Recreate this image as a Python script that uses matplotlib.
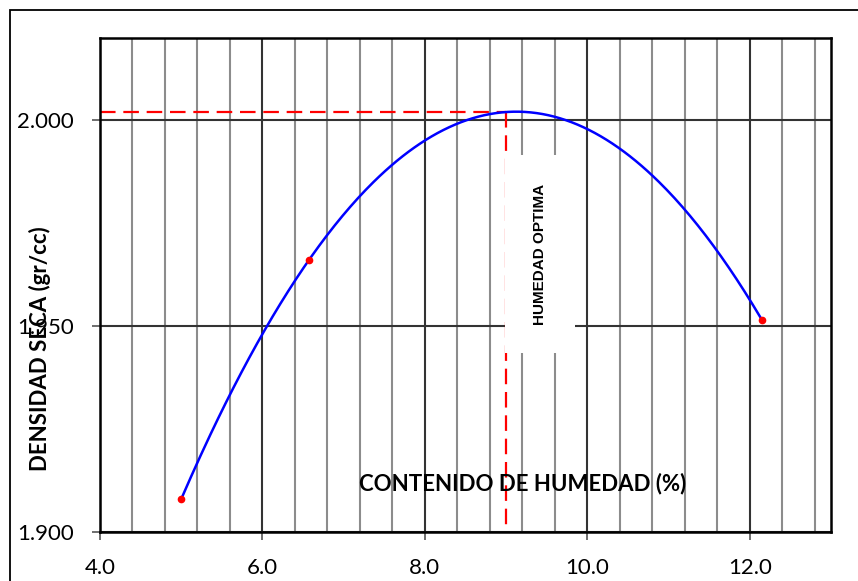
import numpy as np
import matplotlib
matplotlib.use("Agg")
import matplotlib.pyplot as plt
from matplotlib.patches import Rectangle
from matplotlib.ticker import FixedLocator, FuncFormatter

# ---- data ----
humedad = [5.0, 6.57, 12.15]          # contenido de humedad (%)
densidad = [1.908, 1.966, 1.9515]     # densidad seca (gr/cc)
hum_optima = 9.0
dens_maxima = 2.002
x_ticks = [4.0, 6.0, 8.0, 10.0, 12.0]
y_ticks = [1.900, 1.950, 2.000]

plt.rcParams['font.family'] = ['Lato', 'DejaVu Sans']

fig = plt.figure(figsize=(8.58, 5.81), dpi=100)
ax = fig.add_axes([100/858, 1-532/581, 731/858, 494/581])

ax.set_xlim(4.0, 13.0)
ax.set_ylim(1.900, 2.020)

# grid
ax.xaxis.set_major_locator(FixedLocator(x_ticks))
minor = [v for v in np.arange(4.4, 13.0, 0.4) if all(abs(v - t) > 1e-6 for t in x_ticks)]
ax.xaxis.set_minor_locator(FixedLocator(minor))
ax.yaxis.set_major_locator(FixedLocator(y_ticks))
ax.xaxis.set_major_formatter(FuncFormatter(lambda v, p: f"{v:.1f}"))
ax.yaxis.set_major_formatter(FuncFormatter(lambda v, p: f"{v:.3f}"))

ax.grid(which='major', color='#333333', linewidth=1.5, zorder=0)
ax.grid(which='minor', axis='x', color='#8c8c8c', linewidth=1.5, zorder=0)
ax.set_axisbelow(True)

ax.tick_params(which='major', direction='out', length=6, width=1.2, color='#555555',
               labelsize=16, pad=13)
ax.tick_params(which='minor', length=0)
for s in ax.spines.values():
    s.set_linewidth(1.8)
    s.set_color('black')
    s.set_zorder(5)

# curve (quadratic trendline through data)
coef = np.polyfit(humedad, densidad, 2)
xs = np.linspace(min(humedad), max(humedad), 300)
ax.plot(xs, np.polyval(coef, xs), color='#0000ff', linewidth=1.8, zorder=4)
ax.plot(humedad, densidad, 'o', color='red', markersize=4.5, zorder=6)

# optimum lines
ax.plot([4.0, hum_optima], [dens_maxima, dens_maxima], color='red', linewidth=1.6,
        dashes=(7, 3.5), zorder=3)
ax.plot([hum_optima, hum_optima], [dens_maxima, 1.900], color='red', linewidth=1.6,
        dashes=(7, 3.5), zorder=3)

# white box label
ax.add_patch(Rectangle((0.554, 0.362), 0.096, 0.401, transform=ax.transAxes,
                       facecolor='white', edgecolor='none', zorder=3.5))
ax.text(0.602, 0.561, "HUMEDAD OPTIMA", transform=ax.transAxes, rotation=90,
        ha='center', va='center', fontsize=11, fontweight='bold',
        family=['Liberation Sans', 'DejaVu Sans'], zorder=7)

ax.text((523-100)/731, (532-484)/494, "CONTENIDO DE HUMEDAD (%)", transform=ax.transAxes,
        ha='center', va='center', fontsize=16, fontweight='bold', zorder=7)

fig.text(40/858, 1-349/581, "DENSIDAD SECA (gr/cc)", rotation=90,
         ha='center', va='center', fontsize=16, fontweight='bold', zorder=10)

# outer frame
fig.patches.append(Rectangle((10/858, -0.1), 1.2, 1.1 - 10/581, transform=fig.transFigure,
                             facecolor='none', edgecolor='black', linewidth=1.3))

fig.savefig("out.png", dpi=100)
